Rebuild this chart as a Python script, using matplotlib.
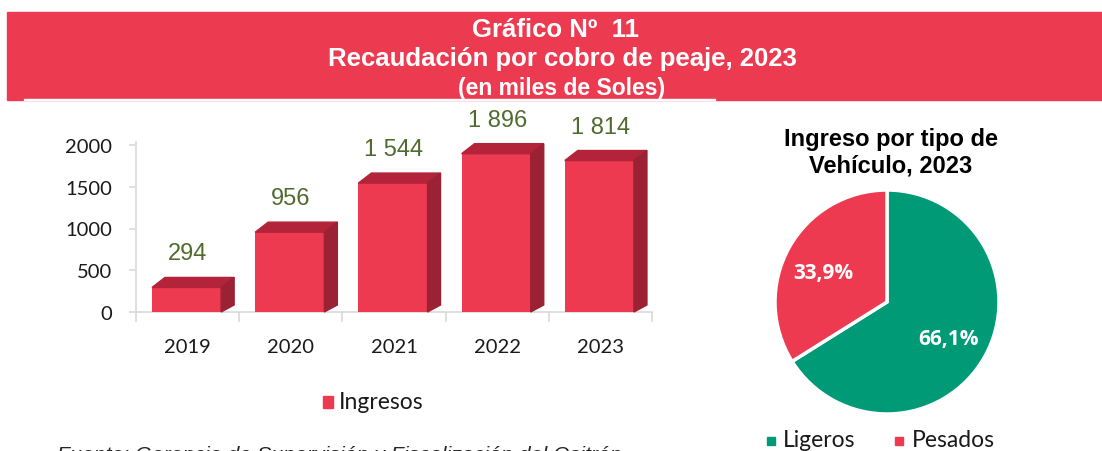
import numpy as np
import matplotlib.pyplot as plt
from matplotlib.patches import Rectangle, Polygon

# datos
years = ['2019', '2020', '2021', '2022', '2023']
ingresos = [294, 956, 1544, 1896, 1814]
ingresos_lbl = ['294', '956', '1 544', '1 896', '1 814']
tipos = ['Ligeros', 'Pesados']
participacion = [66.1, 33.9]
participacion_lbl = ['66,1%', '33,9%']

RED = '#EE3A51'
TOP = '#B3233A'
SIDE = '#9A2234'
GREEN = '#009A77'
VAL_GREEN = '#4F6B2E'

W, H = 1102, 452
fig = plt.figure(figsize=(W / 100, H / 100), dpi=100)

def fx(px):
    return px / W

def fy(py):
    return 1 - py / H

# banner del titulo
fig.patches.append(Rectangle((fx(7), fy(101)), 1 - fx(7), fy(13) - fy(101),
                             transform=fig.transFigure, color='#EC3A50', zorder=0))
fig.patches.append(Rectangle((fx(24), fy(101)), fx(715) - fx(24), fy(100) - fy(101),
                             transform=fig.transFigure, color='white', zorder=1))
fig.text(fx(556), fy(30), 'Gráfico Nº  11', ha='center', va='center', color='white',
         fontsize=18.5, fontweight='bold', family='Liberation Sans')
fig.text(fx(562), fy(59), 'Recaudación por cobro de peaje, 2023', ha='center', va='center',
         color='white', fontsize=18.5, fontweight='bold', family='Liberation Sans')
fig.text(fx(562), fy(88), '(en miles de Soles)', ha='center', va='center', color='white',
         fontsize=16.5, fontweight='bold', family='Liberation Sans')

# grafico de barras
ymax = 2040
ax = fig.add_axes([fx(136), fy(313), fx(652) - fx(136), ymax * 167 / 2000 / H])
ax.set_xlim(0, len(years))
ax.set_ylim(0, ymax)

x = np.arange(len(years))
bw = 0.67
x0 = x + 0.155
dx, dy = 0.126, 120
ax.bar(x0, ingresos, width=bw, align='edge', color=RED, zorder=3)
for xi, h in zip(x0, ingresos):
    ax.add_patch(Polygon([(xi, h), (xi + dx, h + dy), (xi + bw + dx, h + dy), (xi + bw, h)],
                         closed=True, color=TOP, zorder=3, clip_on=False))
    ax.add_patch(Polygon([(xi + bw, 0), (xi + bw + dx, dy * 0.7), (xi + bw + dx, h + dy), (xi + bw, h)],
                         closed=True, color=SIDE, zorder=3, clip_on=False))
for xi, h, lbl in zip(x, ingresos, ingresos_lbl):
    ax.annotate(lbl, (xi + 0.5, h), xytext=(0, 24.5), textcoords='offset points',
                ha='center', va='center', color=VAL_GREEN, fontsize=17,
                family='Liberation Sans', annotation_clip=False)

for s in ['top', 'right']:
    ax.spines[s].set_visible(False)
for s in ['left', 'bottom']:
    ax.spines[s].set_color('#D9D9D9')
    ax.spines[s].set_linewidth(1.2)
ax.set_yticks([0, 500, 1000, 1500, 2000])
ax.set_xticks(np.arange(len(years) + 1))
ax.set_xticklabels([])
ax.set_xticks(x + 0.5, minor=True)
ax.set_xticklabels(years, minor=True)
ax.tick_params(axis='x', which='major', length=7, color='#D9D9D9', width=1.2)
ax.tick_params(axis='x', which='minor', length=0, pad=19)
ax.tick_params(axis='y', length=5, color='#D9D9D9', width=1.2, pad=12)
for t in ax.get_xticklabels(minor=True) + ax.get_yticklabels():
    t.set_fontfamily('Lato')
    t.set_fontsize(14.5)
    t.set_color('#1a1a1a')

# leyenda barras
fig.patches.append(Rectangle((fx(323), fy(409)), fx(333) - fx(323), fy(397) - fy(409),
                             transform=fig.transFigure, color=RED))
fig.text(fx(339), fy(403), 'Ingresos', ha='left', va='center', fontsize=16.5,
         family='Lato', color='#1a1a1a')

# grafico de torta
R = 112
pax = fig.add_axes([fx(887 - R), fy(303 + R), fx(2 * R), 2 * R / H])
wedges, _ = pax.pie(participacion, colors=[GREEN, RED], startangle=90, counterclock=False,
                    wedgeprops=dict(edgecolor='white', linewidth=2.5))
pax.set_xlim(-1.0, 1.0)
pax.set_ylim(-1.0, 1.0)
pax.set_aspect('equal')
pax.text(0.545, -0.33, participacion_lbl[0], ha='center', va='center', color='white',
         fontsize=15, fontweight='bold', family='Open Sans')
pax.text(-0.57, 0.26, participacion_lbl[1], ha='center', va='center', color='white',
         fontsize=15, fontweight='bold', family='Open Sans')
fig.text(fx(891), fy(153), 'Ingreso por tipo de\nVehículo, 2023', ha='center', va='center',
         fontsize=17, fontweight='bold', family='Liberation Sans', linespacing=1.2)

# leyenda torta
fig.patches.append(Rectangle((fx(767), fy(446)), fx(8), 8 / H,
                             transform=fig.transFigure, color=GREEN))
fig.text(fx(783), fy(441), tipos[0], ha='left', va='center', fontsize=16.5,
         family='Lato', color='#1a1a1a')
fig.patches.append(Rectangle((fx(895), fy(446)), fx(8), 8 / H,
                             transform=fig.transFigure, color=RED))
fig.text(fx(912), fy(441), tipos[1], ha='left', va='center', fontsize=16.5,
         family='Lato', color='#1a1a1a')

# fuente
fig.text(fx(57), fy(446), 'Fuente: Gerencia de Supervisión y Fiscalización del Ositrán',
         ha='left', va='top', fontsize=15.3, style='italic', family='Liberation Sans',
         color='#262626')

fig.savefig('out.png', dpi=100)
